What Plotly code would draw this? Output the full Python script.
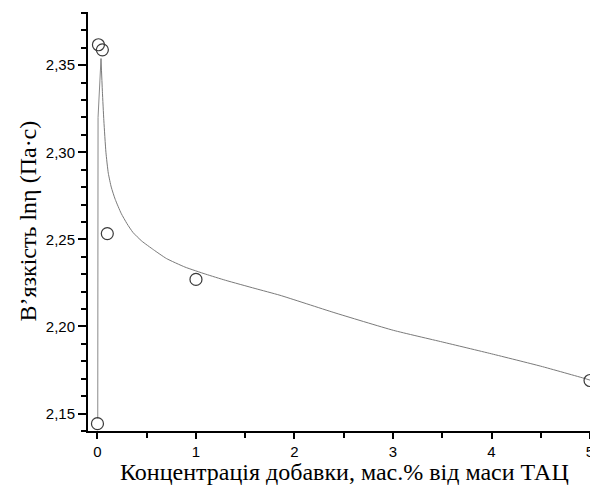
import plotly.graph_objects as go

# measured points
x_pts = [0, 0.01, 0.05, 0.1, 1, 5]
y_pts = [2.1442, 2.3617, 2.3588, 2.2533, 2.227, 2.169]

# fitted curve: rising branch and decay branch
x_rise = [0.003, 0.006, 0.036]
y_rise = [2.147, 2.320, 2.3538]
x_fit = [0.036, 0.05, 0.065, 0.086, 0.11, 0.14, 0.18, 0.24, 0.30, 0.36, 0.45, 0.57, 0.70, 0.888,
         1.1, 1.3, 1.6, 1.853, 2.4, 3.003, 3.5, 4.0, 4.5, 4.949, 5.0]
y_fit = [2.3538, 2.335, 2.318, 2.300, 2.288, 2.280, 2.273, 2.265, 2.259, 2.254, 2.249, 2.244, 2.239, 2.2341,
         2.2300, 2.2265, 2.2218, 2.2179, 2.2080, 2.1978, 2.1911, 2.1843, 2.1772, 2.1701, 2.1692]

y_ticks = [2.15, 2.20, 2.25, 2.30, 2.35]
x_ticks = [0, 1, 2, 3, 4, 5]

fig = go.Figure()
fig.add_trace(go.Scatter(x=x_rise, y=y_rise, mode="lines",
                         line=dict(color="#8a8a8a", width=1), hoverinfo="skip"))
fig.add_trace(go.Scatter(x=x_fit, y=y_fit, mode="lines",
                         line=dict(color="#7a7a7a", width=1, shape="spline", smoothing=0.5),
                         hoverinfo="skip"))
fig.add_trace(go.Scatter(x=x_pts, y=y_pts, mode="markers",
                         marker=dict(symbol="circle-open", size=12, color="#3a3a3a",
                                     line=dict(width=1.2, color="#3a3a3a"))))

# page body has an 8px margin, so the figure is 590x484 placed at (8, 8)
fig.update_layout(
    width=590, height=484,
    margin=dict(l=80, r=6, t=4, b=61, autoexpand=False),
    paper_bgcolor="white", plot_bgcolor="white",
    showlegend=False,
    separators=",.",
    font=dict(family="Liberation Sans", color="black"),
    annotations=[
        dict(text="Концентрація добавки, мас.% від маси ТАЦ", xref="paper", yref="paper",
             x=(344 - 88) / 504, y=-0.099, xanchor="center", yanchor="middle",
             showarrow=False, font=dict(family="Liberation Serif", size=24, color="black")),
        dict(text="В’язкість lnη (Па·с)", xref="paper", yref="paper",
             x=(27 - 88) / 504, y=0.5, xanchor="center", yanchor="middle", textangle=-90,
             showarrow=False, font=dict(family="Liberation Serif", size=24, color="black")),
    ],
)
fig.update_xaxes(
    range=[-0.096, 5.02], tickvals=x_ticks, ticktext=[str(v) for v in x_ticks],
    showgrid=False, zeroline=False, showline=True, linecolor="black", linewidth=2,
    ticks="outside", ticklen=6, tickwidth=1.5, tickcolor="black",
    minor=dict(dtick=0.5, tick0=0, ticks="outside", ticklen=5, tickwidth=1.5, tickcolor="black", showgrid=False),
    tickfont=dict(size=15, family="Liberation Sans"), automargin=False,
)
fig.update_yaxes(
    range=[2.14, 2.3805], tickvals=y_ticks, tickformat=".2f",
    showgrid=False, zeroline=False, showline=True, linecolor="black", linewidth=2,
    ticks="outside", ticklen=8, tickwidth=1.5, tickcolor="black",
    minor=dict(dtick=0.01, tick0=2.14, ticks="outside", ticklen=5, tickwidth=1.5, tickcolor="black", showgrid=False),
    tickfont=dict(size=15, family="Liberation Sans"), automargin=False,
)
fig.write_html("out.html")
